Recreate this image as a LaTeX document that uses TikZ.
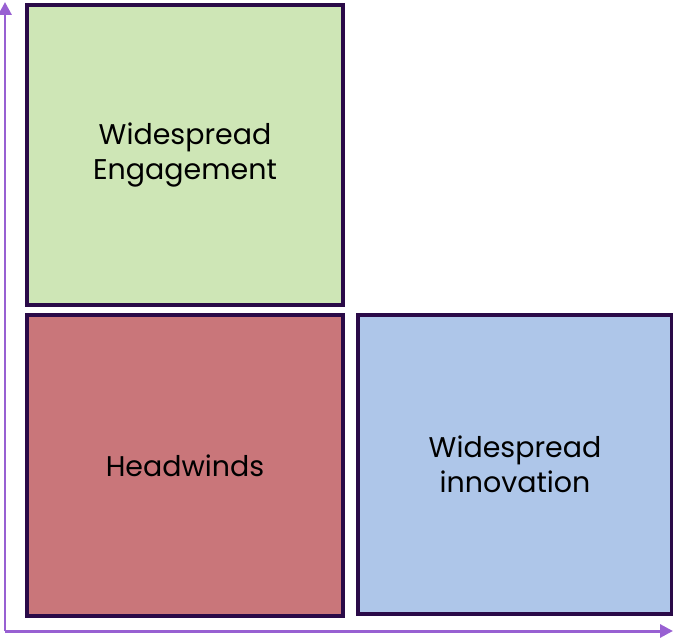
\documentclass[tikz,border=0pt]{standalone}
\usepackage{fontspec}
\setmainfont{Poppins}
\usetikzlibrary{positioning,arrows.meta}
\definecolor{quadline}{RGB}{42,10,72}
\definecolor{axispurple}{RGB}{152,96,210}
\definecolor{greenfill}{RGB}{206,230,182}
\definecolor{redfill}{RGB}{201,118,122}
\definecolor{bluefill}{RGB}{174,198,233}
\tikzset{
  quad/.style={shape=rectangle, draw=quadline, line width=0.08cm, align=center,
               font=\fontsize{16.2}{19.8}\selectfont, text=black},
  axis/.style={draw=axispurple, line width=0.06cm, -{Triangle[length=0.26cm,width=0.26cm]}},
}
\begin{document}
\begin{tikzpicture}[x=0.02cm, y=-0.02cm]
\useasboundingbox (0,0) rectangle (673,638);
% quadrants
\node[quad, fill=greenfill, minimum width=6.32cm, minimum height=6.0cm] (engage) at (185,155) {Widespread\\Engagement};
\node[quad, fill=redfill, minimum width=6.32cm, minimum height=6.02cm] (headwind) at (185,465.5) {Headwinds};
\node[quad, fill=bluefill, minimum width=6.30cm, minimum height=5.98cm] (innov) at (515,464.5) {Widespread\\innovation};
% axes
\coordinate (origin) at (5,631);
\coordinate (ytop) at (5,2);
\coordinate (xend) at (673,631);
\draw[axis] (origin) -- (ytop);
\draw[axis] (origin) -- (xend);
\end{tikzpicture}
\end{document}
